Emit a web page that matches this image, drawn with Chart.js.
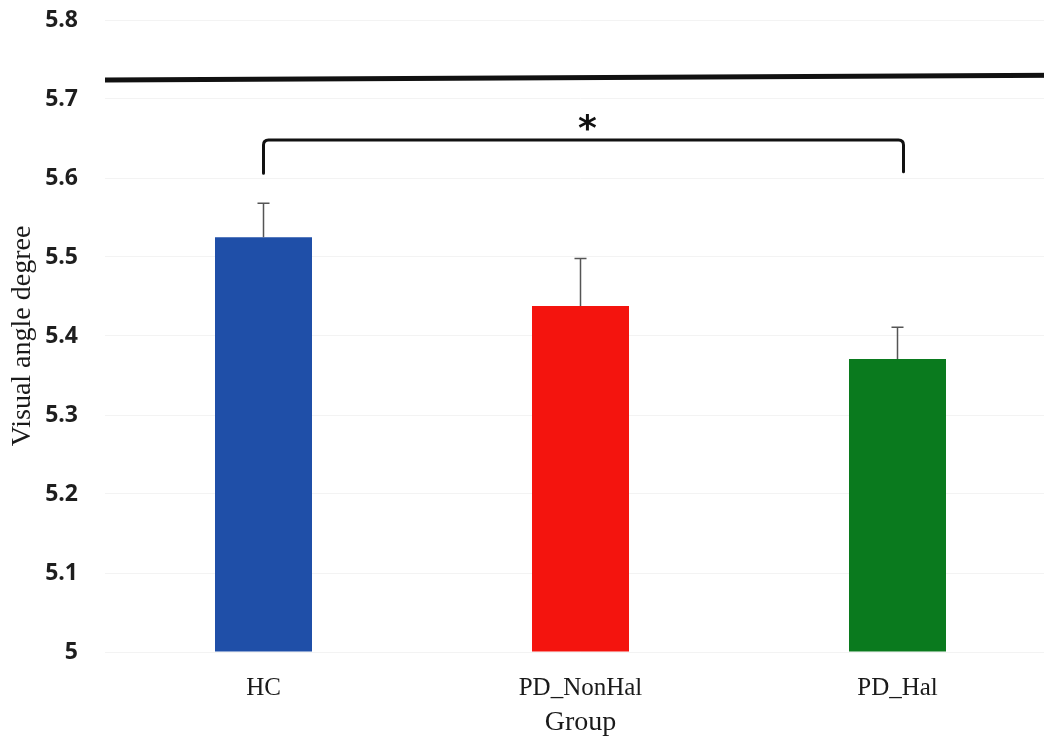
<!DOCTYPE html>
<html>
<head>
<meta charset="utf-8">
<script src="https://cdn.jsdelivr.net/npm/chart.js@4.4.1/dist/chart.umd.min.js"></script>
<style>
  html, body { margin: 0; padding: 0; background: #fff; overflow: hidden; }
  #wrap { width: 1060px; height: 739px; }
</style>
</head>
<body>
<div id="wrap"><canvas id="chart"></canvas></div>
<script>
// ─── Data ────────────────────────────────────────────────────────────────────
const groups     = ["HC", "PD_NonHal", "PD_Hal"];
const means      = [5.525, 5.438, 5.371];
const errors     = [0.043, 0.060, 0.040];
const barColors  = ["#1f4fa8", "#f4140e", "#0a7a1e"];
const yTicks     = [5, 5.1, 5.2, 5.3, 5.4, 5.5, 5.6, 5.7, 5.8];

// significance bracket between HC and PD_Hal
const bracketFrom   = 0;
const bracketTo     = 2;
const bracketLegLow = [5.606, 5.608];
const bracketTop    = 5.648;
const starValue     = 5.670;

// heavy rule across the top of the plot
const ruleValues = [5.724, 5.730];

// ─── Plugins ─────────────────────────────────────────────────────────────────
const errorBarPlugin = {
    id: "errorBars",
    afterDatasetsDraw(chart) {
        const { ctx, scales: { x, y } } = chart;
        ctx.save();
        ctx.strokeStyle = "#555";
        ctx.lineWidth = 1.5;
        means.forEach((m, i) => {
            const cx = x.getPixelForValue(i);
            const y0 = y.getPixelForValue(m);
            const y1 = y.getPixelForValue(m + errors[i]);
            ctx.beginPath();
            ctx.moveTo(cx, y0);
            ctx.lineTo(cx, y1);
            ctx.moveTo(cx - 6, y1);
            ctx.lineTo(cx + 6, y1);
            ctx.stroke();
        });
        ctx.restore();
    },
};

const annotationPlugin = {
    id: "annotations",
    afterDatasetsDraw(chart) {
        const { ctx, chartArea, scales: { x, y } } = chart;
        ctx.save();

        // top rule
        ctx.strokeStyle = "#111";
        ctx.lineWidth = 5;
        ctx.beginPath();
        ctx.moveTo(chartArea.left, y.getPixelForValue(ruleValues[0]));
        ctx.lineTo(chartArea.right, y.getPixelForValue(ruleValues[1]));
        ctx.stroke();

        // bracket
        const xl = x.getPixelForValue(bracketFrom);
        const xr = x.getPixelForValue(bracketTo) + 6;
        const yt = y.getPixelForValue(bracketTop);
        ctx.lineWidth = 3;
        ctx.lineJoin = "round";
        ctx.lineCap = "round";
        ctx.beginPath();
        ctx.moveTo(xl, y.getPixelForValue(bracketLegLow[0]));
        ctx.lineTo(xl, yt + 5);
        ctx.quadraticCurveTo(xl, yt, xl + 5, yt);
        ctx.lineTo(xr - 5, yt);
        ctx.quadraticCurveTo(xr, yt, xr, yt + 5);
        ctx.lineTo(xr, y.getPixelForValue(bracketLegLow[1]));
        ctx.stroke();

        // asterisk, centred on its own ink box
        ctx.fillStyle = "#111";
        ctx.font = "bold 36px 'DejaVu Sans'";
        ctx.textAlign = "center";
        ctx.textBaseline = "alphabetic";
        const m = ctx.measureText("*");
        const cy = y.getPixelForValue(starValue);
        ctx.fillText("*", (xl + xr) / 2 + 4,
            cy + (m.actualBoundingBoxAscent - m.actualBoundingBoxDescent) / 2);

        ctx.restore();
    },
};

// ─── Chart ───────────────────────────────────────────────────────────────────
new Chart(document.getElementById("chart"), {
    type: "bar",
    data: {
        labels: groups,
        datasets: [{
            data: means,
            backgroundColor: barColors,
            borderWidth: 0,
            barPercentage: 0.306,
            categoryPercentage: 1.0,
            base: 5,
        }],
    },
    options: {
        responsive: true,
        maintainAspectRatio: false,
        animation: false,
        layout: { padding: { top: 20, right: 4, left: 0, bottom: 0 } },
        plugins: {
            legend: { display: false },
            tooltip: { enabled: false },
        },
        scales: {
            y: {
                min: 5,
                max: 5.8,
                afterFit: s => { s.width = 105; s.paddingTop = 0; s.paddingBottom = 0; },
                afterBuildTicks: s => { s.ticks = yTicks.map(v => ({ value: v })); },
                ticks: {
                    padding: 27,
                    color: "#1e1e1e",
                    font: { family: "'Open Sans'", size: 23, weight: "bold" },
                    callback: v => String(+v.toFixed(1)),
                },
                grid: { color: "#f3f3f3", lineWidth: 1, drawTicks: false },
                border: { display: false },
                title: {
                    display: true,
                    text: "Visual angle degree",
                    color: "#1a1a1a",
                    font: { family: "'Liberation Serif'", size: 28 },
                    padding: { top: 6, bottom: 0 },
                },
            },
            x: {
                afterFit: s => { s.height = 87; s.paddingLeft = 0; s.paddingRight = 0; },
                ticks: {
                    padding: 21,
                    color: "#1a1a1a",
                    font: { family: "'Liberation Serif'", size: 25 },
                },
                grid: { display: false, drawTicks: false },
                border: { display: false },
                title: {
                    display: true,
                    text: "Group",
                    color: "#1a1a1a",
                    font: { family: "'Liberation Serif'", size: 28 },
                    padding: { top: 0, bottom: 0 },
                },
            },
        },
    },
    plugins: [errorBarPlugin, annotationPlugin],
});
</script>
</body>
</html>
